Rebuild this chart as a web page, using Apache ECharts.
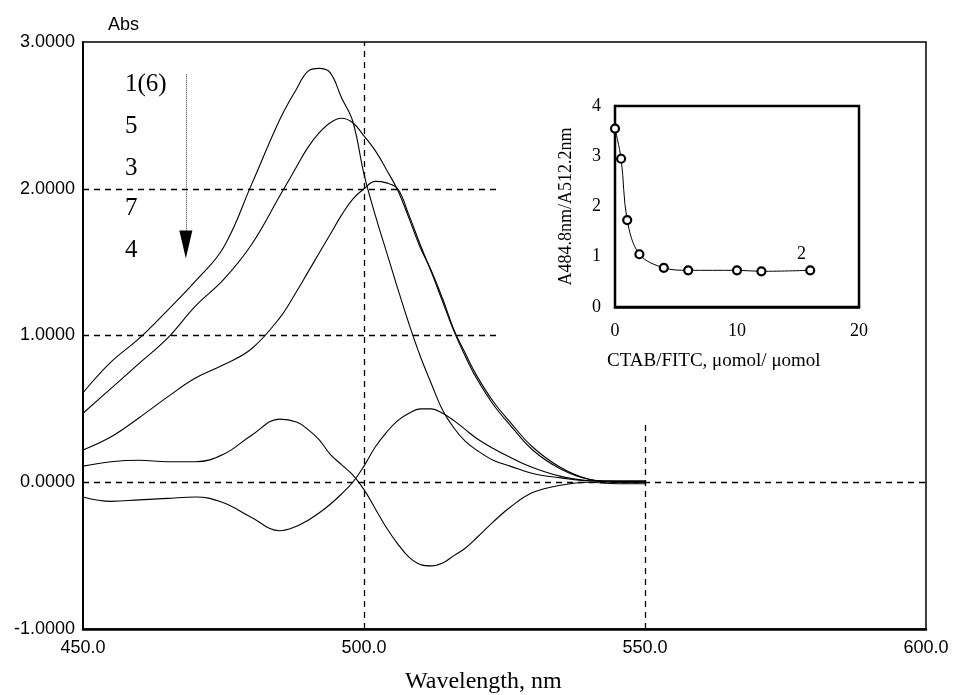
<!DOCTYPE html>
<html>
<head>
<meta charset="utf-8">
<script src="https://cdn.jsdelivr.net/npm/echarts@6/dist/echarts.min.js"></script>
<style>
  html, body { margin: 0; padding: 0; background: #fff; }
  #chart { width: 953px; height: 695px; }
</style>
</head>
<body>
<div id="chart"></div>
<script>
// wavelength (nm) shared by all spectra
var wavelengths = [450, 455, 460, 465, 470, 475, 480, 485, 488, 490, 492, 494, 496, 498, 500, 502, 504, 506, 508, 510, 512, 514, 516, 518, 520, 523, 526, 530, 535, 540, 545, 550];

// absorbance of each spectrum
var abs1 = [0.61, 0.82, 0.98, 1.17, 1.37, 1.60, 2.03, 2.47, 2.68, 2.80, 2.82, 2.79, 2.62, 2.46, 2.10, 1.82, 1.57, 1.32, 1.08, 0.86, 0.67, 0.49, 0.37, 0.28, 0.22, 0.15, 0.11, 0.06, 0.03, 0.01, 0.01, 0.01];
var abs5 = [0.47, 0.64, 0.81, 0.98, 1.20, 1.38, 1.62, 1.95, 2.15, 2.28, 2.38, 2.45, 2.48, 2.45, 2.36, 2.26, 2.13, 1.99, 1.80, 1.60, 1.44, 1.25, 1.04, 0.88, 0.73, 0.55, 0.41, 0.24, 0.10, 0.02, 0.0, 0.0];
var abs3 = [0.22, 0.31, 0.44, 0.58, 0.71, 0.80, 0.91, 1.12, 1.30, 1.43, 1.56, 1.69, 1.82, 1.93, 2.00, 2.05, 2.04, 2.00, 1.82, 1.62, 1.43, 1.23, 1.03, 0.86, 0.71, 0.53, 0.39, 0.22, 0.09, 0.02, 0.005, 0.005];
var abs7 = [0.11, 0.14, 0.15, 0.14, 0.14, 0.19, 0.32, 0.43, 0.41, 0.36, 0.29, 0.19, 0.12, 0.05, -0.05, -0.18, -0.31, -0.42, -0.51, -0.56, -0.57, -0.55, -0.50, -0.45, -0.38, -0.27, -0.17, -0.07, -0.02, 0.0, -0.01, -0.01];
var abs4 = [-0.10, -0.13, -0.12, -0.11, -0.10, -0.14, -0.24, -0.33, -0.30, -0.26, -0.21, -0.15, -0.08, 0.0, 0.11, 0.24, 0.34, 0.42, 0.47, 0.50, 0.50, 0.47, 0.42, 0.36, 0.30, 0.23, 0.17, 0.10, 0.04, 0.01, 0.0, 0.0];

// inset: CTAB/FITC ratio vs A484.8/A512.2
var ratioX = [0, 0.5, 1, 2, 4, 6, 10, 12, 16];
var ratioY = [3.55, 2.95, 1.73, 1.05, 0.78, 0.73, 0.73, 0.71, 0.73];

var spectra = [
    {name: '1(6)', y: abs1},
    {name: '5', y: abs5},
    {name: '3', y: abs3},
    {name: '7', y: abs7},
    {name: '4', y: abs4}
];

function pairs(xs, ys) {
    return xs.map(function (x, i) { return [x, ys[i]]; });
}

var sans = 'Liberation Sans, Arial, sans-serif';
var serif = 'Liberation Serif, Times New Roman, serif';
var dash = {color: '#000', width: 1.3, type: [6, 5]};

var series = spectra.map(function (s) {
    return {
        name: s.name,
        type: 'line',
        xAxisIndex: 0,
        yAxisIndex: 0,
        data: pairs(wavelengths, s.y),
        smooth: 0.4,
        showSymbol: false,
        silent: true,
        lineStyle: {color: '#000', width: 1.1},
        z: 3
    };
});

// dashed reference lines + the arrow, carried by an empty series
series.push({
    type: 'line',
    xAxisIndex: 0,
    yAxisIndex: 0,
    data: [],
    silent: true,
    markLine: {
        symbol: ['none', 'none'],
        label: {show: false},
        silent: true,
        lineStyle: dash,
        data: [
            [{coord: [450, 2]}, {coord: [523.8, 2]}],
            [{coord: [450, 1]}, {coord: [523.8, 1]}],
            [{coord: [450, 0]}, {coord: [600, 0]}],
            [{coord: [500, -1]}, {coord: [500, 3]}],
            [{coord: [550, -1]}, {coord: [550, 0.40]}],
            [{coord: [468.3, 2.78], lineStyle: {type: 'dotted', width: 1, color: '#444'}},
             {coord: [468.3, 1.70]}]
        ]
    },
    markPoint: {
        silent: true,
        label: {show: false},
        data: [{coord: [468.3, 1.62], symbol: 'triangle', symbolRotate: 180, symbolSize: [13, 28],
                itemStyle: {color: '#000'}}]
    }
});

// inset curve
series.push({
    type: 'line',
    xAxisIndex: 1,
    yAxisIndex: 1,
    data: pairs(ratioX, ratioY),
    smooth: 0.35,
    symbol: 'circle',
    symbolSize: 8,
    silent: true,
    lineStyle: {color: '#000', width: 1},
    itemStyle: {color: '#fff', borderColor: '#000', borderWidth: 2.2},
    z: 5
});

var myChart = echarts.init(document.getElementById('chart'));

option = {
    backgroundColor: '#fff',
    animation: false,
    grid: [
        {left: 83, top: 42, width: 843, height: 587, show: true, borderColor: '#000', borderWidth: 1.5, backgroundColor: 'transparent'},
        {left: 615, top: 106, width: 244, height: 201, show: true, borderColor: '#000', borderWidth: 2.5, backgroundColor: '#fff', z: 4}
    ],
    xAxis: [
        {
            type: 'value', gridIndex: 0, min: 450, max: 600, interval: 50,
            axisLine: {show: true, onZero: false, lineStyle: {color: '#000', width: 2.5}},
            axisTick: {show: false},
            splitLine: {show: false},
            axisLabel: {color: '#000', fontFamily: sans, fontSize: 18, margin: 10,
                formatter: function (v) { return v.toFixed(1); }}
        },
        {
            type: 'value', gridIndex: 1, min: 0, max: 20, interval: 10,
            axisLine: {show: true, onZero: false, lineStyle: {color: '#000', width: 2.5}},
            axisTick: {show: true, inside: true, length: 5, lineStyle: {color: '#000', width: 1.5}},
            splitLine: {show: false},
            axisLabel: {color: '#000', fontFamily: serif, fontSize: 18, margin: 15}
        }
    ],
    yAxis: [
        {
            type: 'value', gridIndex: 0, min: -1, max: 3, interval: 1,
            axisLine: {show: true, onZero: false, lineStyle: {color: '#000', width: 2}},
            axisTick: {show: false},
            splitLine: {show: false},
            axisLabel: {color: '#000', fontFamily: sans, fontSize: 18, margin: 8,
                formatter: function (v) { return v.toFixed(4); }}
        },
        {
            type: 'value', gridIndex: 1, min: 0, max: 4, interval: 1,
            axisLine: {show: true, onZero: false, lineStyle: {color: '#000', width: 2.5}},
            axisTick: {show: true, inside: true, length: 5, lineStyle: {color: '#000', width: 1.5}},
            splitLine: {show: false},
            axisLabel: {color: '#000', fontFamily: serif, fontSize: 18, margin: 14},
            name: 'A484.8nm/A512.2nm',
            nameLocation: 'middle',
            nameGap: 40,
            nameTextStyle: {color: '#000', fontFamily: serif, fontSize: 18}
        }
    ],
    graphic: [
        {type: 'text', left: 108, top: 16, style: {text: 'Abs', font: '18px ' + sans, fill: '#000'}},
        {type: 'text', left: 125, top: 72, style: {text: '1(6)', font: '25px ' + serif, fill: '#000'}},
        {type: 'text', left: 125, top: 114, style: {text: '5', font: '25px ' + serif, fill: '#000'}},
        {type: 'text', left: 125, top: 156, style: {text: '3', font: '25px ' + serif, fill: '#000'}},
        {type: 'text', left: 125, top: 196, style: {text: '7', font: '25px ' + serif, fill: '#000'}},
        {type: 'text', left: 125, top: 238, style: {text: '4', font: '25px ' + serif, fill: '#000'}},
        {type: 'text', left: 797, top: 245, z: 10, style: {text: '2', font: '18px ' + serif, fill: '#000'}},
        {type: 'text', left: 607, top: 352, style: {text: 'CTAB/FITC, \u03bcomol/ \u03bcomol', font: '19px ' + serif, fill: '#000'}},
        {type: 'text', left: 405, top: 670, style: {text: 'Wavelength, nm', font: '24px ' + serif, fill: '#000'}}
    ],
    series: series
};

myChart.setOption(option);
</script>
</body>
</html>
